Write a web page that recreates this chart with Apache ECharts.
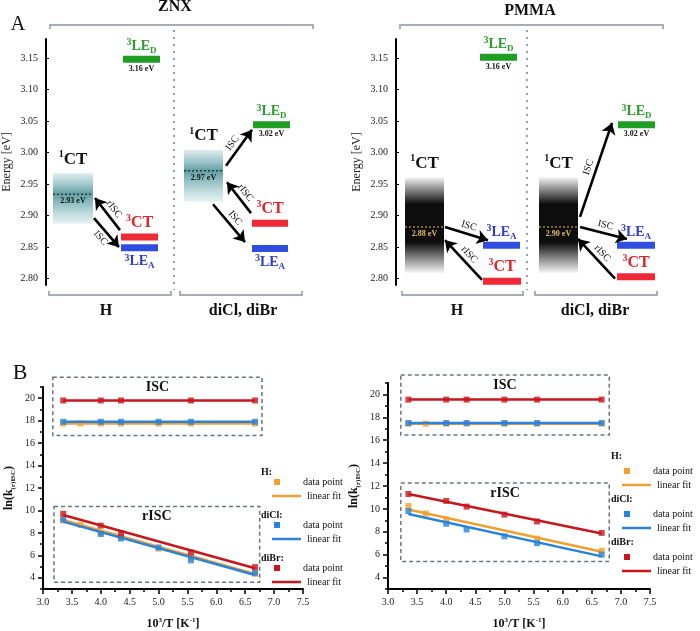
<!DOCTYPE html>
<html>
<head>
<meta charset="utf-8">
<script src="https://cdn.jsdelivr.net/npm/echarts@6.0.0/dist/echarts.min.js"></script>
<style>
  html, body { margin: 0; padding: 0; background: #fff; }
  #main { width: 700px; height: 631px; }
</style>
</head>
<body>
<div id="main"></div>
<script>
// ---------- panel A : state energies (eV), order 1CT, 3LE_D, 3CT, 3LE_A
const znxH = [2.934, 3.148, 2.866, 2.849];
const znxHal = [2.971, 3.044, 2.888, 2.848];
const pmmaH = [2.882, 3.151, 2.796, 2.853];
const pmmaHal = [2.882, 3.044, 2.803, 2.853];
// 1CT band spread [low, high]
const ctBandZnxH = [2.887, 2.967];
const ctBandZnxHal = [2.922, 3.004];
const ctBandPmmaH = [2.809, 2.961];
const ctBandPmmaHal = [2.809, 2.961];
const ctLabels = ['2.93 eV', '2.97 eV', '2.88 eV', '2.90 eV'];
const ledLabels = ['3.16 eV', '3.02 eV', '3.16 eV', '3.02 eV'];
const energyTicks = [2.80, 2.85, 2.90, 2.95, 3.00, 3.05, 3.10, 3.15];

// ---------- panel B : ln(k) vs 10^3/T
const invT = [3.35, 3.65, 4.0, 4.35, 5.0, 5.56, 6.67];
const fitX = [3.35, 6.67];
// ZNX
const znxIscH = [17.75, 17.75, 17.75, 17.75, 17.75, 17.75, 17.75];
const znxIscCl = [17.9, null, 17.9, 17.9, 17.9, 17.9, 17.9];
const znxIscBr = [19.8, null, 19.8, 19.8, null, 19.8, 19.8];
const znxRiscH = [9.1, 8.7, 8.0, 7.6, 6.6, 5.8, 4.35];
const znxRiscCl = [9.2, null, 7.9, 7.5, 6.7, 5.55, 4.45];
const znxRiscBr = [9.7, null, 8.65, 7.95, null, 6.25, 4.95];
const znxIscFitH = [17.75, 17.75], znxIscFitCl = [17.9, 17.9], znxIscFitBr = [19.8, 19.8];
const znxRiscFitH = [9.15, 4.35], znxRiscFitCl = [9.0, 4.25], znxRiscFitBr = [9.6, 4.85];
// PMMA
const pmmaIscH = [17.45, 17.45, 17.45, 17.45, 17.45, 17.45, 17.45];
const pmmaIscCl = [17.5, null, 17.5, 17.5, 17.5, 17.5, 17.5];
const pmmaIscBr = [19.55, null, 19.55, 19.55, 19.55, 19.55, 19.55];
const pmmaRiscH = [10.25, 9.6, 9.1, null, null, 7.4, 6.35];
const pmmaRiscCl = [9.8, null, 8.7, 8.2, 7.6, 7.0, 6.0];
const pmmaRiscBr = [11.3, null, 10.7, 10.2, 9.5, 8.9, 7.9];
const pmmaIscFitH = [17.45, 17.45], pmmaIscFitCl = [17.5, 17.5], pmmaIscFitBr = [19.55, 19.55];
const pmmaRiscFitH = [9.95, 6.25], pmmaRiscFitCl = [9.55, 5.85], pmmaRiscFitBr = [11.3, 7.85];
const kTicksMajor = [4, 6, 8, 10, 12, 14, 16, 18, 20];
const kTicksMinor = [3, 5, 7, 9, 11, 13, 15, 17, 19, 21];

// ---------- styling
const FONT = "'Liberation Serif', 'DejaVu Serif', serif";
const barColors = [null, '#1f9e24', '#ee2a36', '#2f4ee0'];
const textColors = [null, '#2a9d2a', '#e4222c', '#2b3ccc'];
const cH = '#f0a030', cCl = '#2b82d9', cBr = '#c8161d';
const stateText = ['{s|1}{m|CT}', '{s|3}{m|LE}{d|D}', '{s|3}{m|CT}', '{s|3}{m|LE}{d|A}'];
const stateSize = [17, 14, 16, 14];

function richFor(k) {
  const fill = k === 0 ? '#111' : textColors[k];
  const fs = stateSize[k];
  return {
    s: { fontFamily: FONT, fontWeight: 'bold', fontSize: 10, fill: fill, verticalAlign: 'top', lineHeight: 10 },
    m: { fontFamily: FONT, fontWeight: 'bold', fontSize: fs, fill: fill, lineHeight: fs + 3 },
    d: { fontFamily: FONT, fontWeight: 'bold', fontSize: 9, fill: fill, verticalAlign: 'bottom', lineHeight: 9 }
  };
}

// layout (grid-relative px units on hidden x axes): bars [x0, x1, labelSide]
const layZnxH = { band: [7, 47], bars: [null, [77, 114, 'top'], [75, 112, 'top'], [75, 112, 'bottom']] };
const layZnxHal = { band: [138, 177], bars: [null, [207, 244, 'top'], [206, 242, 'top'], [206, 242, 'bottom']] };
const layPmmaH = { band: [9, 48], bars: [null, [84, 121, 'top'], [87, 125, 'top'], [87, 124, 'top']] };
const layPmmaHal = { band: [143, 182], bars: [null, [222, 259, 'top'], [221, 259, 'top'], [221, 259, 'top']] };

// arrows: [label, x0, e0, x1, e1, labelPos]
const arrowsZnx = [
  ['rISC', 74, 2.877, 49, 2.928, 'insideMiddleTop'],
  ['ISC', 48, 2.896, 73, 2.850, 'insideMiddleBottom'],
  ['ISC', 180, 2.979, 206, 3.036, 'insideMiddleTop'],
  ['rISC', 205, 2.904, 181, 2.953, 'insideMiddleTop'],
  ['ISC', 167, 2.918, 199, 2.858, 'insideMiddleTop']
];
const arrowsPmma = [
  ['ISC', 49, 2.882, 92, 2.861, 'insideMiddleTop'],
  ['rISC', 86, 2.798, 49, 2.861, 'insideMiddleTop'],
  ['ISC', 184, 2.898, 216, 3.047, 'insideMiddleTop'],
  ['ISC', 184, 2.882, 231, 2.863, 'insideMiddleTop'],
  ['rISC', 219, 2.800, 182, 2.863, 'insideMiddleTop']
];

function levelSeries(gi, energies, lay, ledText) {
  const data = [1, 2, 3].map(k => [lay.bars[k][0], lay.bars[k][1], energies[k], k]);
  return {
    type: 'custom', xAxisIndex: gi, yAxisIndex: gi, clip: false, silent: true, z: 5,
    data: data,
    renderItem(params, api) {
      const k = api.value(3);
      const a = api.coord([api.value(0), api.value(2)]);
      const b = api.coord([api.value(1), api.value(2)]);
      const th = 7;
      const top = a[1] - th / 2, bot = a[1] + th / 2, cx = (a[0] + b[0]) / 2;
      const side = lay.bars[k][2];
      const kids = [
        { type: 'rect', shape: { x: a[0], y: top, width: b[0] - a[0], height: th }, style: { fill: barColors[k] } },
        { type: 'text', x: cx, y: side === 'top' ? top - 1 : bot + 2,
          style: { text: stateText[k], rich: richFor(k), align: 'center', verticalAlign: side === 'top' ? 'bottom' : 'top' } }
      ];
      if (k === 1) {
        kids.push({ type: 'text', x: cx, y: bot + 2,
          style: { text: ledText, fontFamily: FONT, fontWeight: 'bold', fontSize: 8, fill: '#111', align: 'center', verticalAlign: 'top' } });
      }
      return { type: 'group', children: kids };
    }
  };
}

function bandSeries(gi, energy, band, lay, label, dark) {
  return {
    type: 'custom', xAxisIndex: gi, yAxisIndex: gi, clip: false, silent: true, z: 3,
    data: [[lay.band[0], lay.band[1], band[0], band[1], energy]],
    renderItem(params, api) {
      const tl = api.coord([api.value(0), api.value(3)]);
      const br = api.coord([api.value(1), api.value(2)]);
      const m = api.coord([api.value(0), api.value(4)]);
      const w = br[0] - tl[0], h = br[1] - tl[1];
      const f = (m[1] - tl[1]) / h;
      const fill = dark
        ? new echarts.graphic.LinearGradient(0, 0, 0, 1, [
            { offset: 0, color: 'rgba(0,0,0,0.04)' },
            { offset: 0.28, color: 'rgba(0,0,0,0.95)' },
            { offset: 0.68, color: 'rgba(0,0,0,0.95)' },
            { offset: 1, color: 'rgba(0,0,0,0.03)' }])
        : new echarts.graphic.LinearGradient(0, 0, 0, 1, [
            { offset: 0, color: 'rgba(120,180,186,0.25)' },
            { offset: f, color: 'rgba(88,152,158,0.95)' },
            { offset: 1, color: 'rgba(130,190,195,0.2)' }]);
      const accent = dark ? '#e3bd74' : '#111';
      return {
        type: 'group',
        children: [
          { type: 'rect', shape: { x: tl[0], y: tl[1], width: w, height: h }, style: { fill: fill } },
          { type: 'line', shape: { x1: tl[0], y1: m[1], x2: br[0], y2: m[1] }, style: { stroke: accent, lineWidth: 1, lineDash: [2, 2] } },
          { type: 'text', x: tl[0] + w / 2, y: tl[1] - 4,
            style: { text: stateText[0], rich: richFor(0), align: 'center', verticalAlign: 'bottom' } },
          { type: 'text', x: tl[0] + w / 2, y: m[1] + 3,
            style: { text: label, fontFamily: FONT, fontWeight: 'bold', fontSize: 8, fill: accent, align: 'center', verticalAlign: 'top' } }
        ]
      };
    }
  };
}

function arrowSeries(gi, arrows) {
  return {
    type: 'lines', coordinateSystem: 'cartesian2d', xAxisIndex: gi, yAxisIndex: gi, silent: true, z: 6,
    symbol: ['none', 'arrow'], symbolSize: 11,
    lineStyle: { color: '#000', width: 2.6, opacity: 1, curveness: 0 },
    label: { show: true, formatter: '{b}', fontFamily: FONT, fontSize: 10, color: '#111', distance: 3 },
    data: arrows.map(a => ({ name: a[0], coords: [[a[1], a[2]], [a[3], a[4]]], label: { position: a[5] } }))
  };
}

function kSeries(gi, isc, risc, iscFit, riscFit, color, z) {
  const pts = arr => invT.map((x, i) => arr[i] == null ? null : [x, arr[i]]).filter(Boolean);
  const fit = v => fitX.map((x, i) => [x, v[i]]);
  const base = { xAxisIndex: gi, yAxisIndex: gi, silent: true, z: z, animation: false };
  return [
    Object.assign({ type: 'line', data: fit(iscFit), symbol: 'none', lineStyle: { color: color, width: 2.5 } }, base),
    Object.assign({ type: 'line', data: fit(riscFit), symbol: 'none', lineStyle: { color: color, width: 2.5 } }, base),
    Object.assign({ type: 'scatter', data: pts(isc), symbol: 'rect', symbolSize: 6, itemStyle: { color: color } }, base),
    Object.assign({ type: 'scatter', data: pts(risc), symbol: 'rect', symbolSize: 6, itemStyle: { color: color } }, base)
  ];
}

const serifLabel = { fontFamily: FONT, fontSize: 10, color: '#222' };

function energyAxis(gi) {
  return {
    type: 'value', gridIndex: gi, min: 2.79, max: 3.18,
    axisLine: { show: true, lineStyle: { color: '#000', width: 2 } },
    axisTick: { show: true, inside: true, length: 3, customValues: energyTicks, lineStyle: { color: '#000' } },
    axisLabel: Object.assign({ customValues: energyTicks, formatter: v => v.toFixed(2), margin: 8 }, serifLabel),
    splitLine: { show: false },
    name: 'Energy [eV]', nameLocation: 'middle', nameGap: 33,
    nameTextStyle: { fontFamily: FONT, fontSize: 12, color: '#222' }
  };
}

function kAxis(gi) {
  return {
    type: 'value', gridIndex: gi, min: 3, max: 21, position: 'left',
    axisLine: { show: true, lineStyle: { color: '#000', width: 2 } },
    axisTick: { show: true, length: 5, customValues: kTicksMajor, lineStyle: { color: '#000', width: 1.5 } },
    axisLabel: Object.assign({ customValues: kTicksMajor, margin: 8 }, serifLabel),
    splitLine: { show: false },
    name: 'ln(k{d|(r)ISC})', nameLocation: 'middle', nameGap: 26,
    nameTextStyle: {
      fontFamily: FONT, fontSize: 12, fontWeight: 'bold', color: '#111',
      rich: { d: { fontFamily: FONT, fontSize: 7, fontWeight: 'bold', color: '#111', verticalAlign: 'bottom', lineHeight: 16 } }
    }
  };
}

function kMinorAxis(gi) {
  return {
    type: 'value', gridIndex: gi, min: 3, max: 21, position: 'left', offset: 0,
    axisLine: { show: false },
    axisTick: { show: true, length: 3, customValues: kTicksMinor, lineStyle: { color: '#000', width: 1.5 } },
    axisLabel: { show: false }, splitLine: { show: false }
  };
}

function tAxis(gi) {
  return {
    type: 'value', gridIndex: gi, min: 3, max: 7.5, interval: 0.5,
    axisLine: { show: true, onZero: false, lineStyle: { color: '#000', width: 2 } },
    axisTick: { show: true, length: 5, lineStyle: { color: '#000', width: 1.5 } },
    minorTick: { show: true, splitNumber: 2, length: 3, lineStyle: { color: '#000', width: 1.5 } },
    axisLabel: Object.assign({ formatter: v => v.toFixed(1), margin: 8, showMaxLabel: true }, serifLabel),
    splitLine: { show: false },
    name: '10{s|3}/T [K{s|-1}]', nameLocation: 'middle', nameGap: 28,
    nameTextStyle: {
      fontFamily: FONT, fontSize: 12, fontWeight: 'bold', color: '#111',
      rich: { s: { fontFamily: FONT, fontSize: 7, fontWeight: 'bold', color: '#111', verticalAlign: 'top', lineHeight: 14 } }
    }
  };
}

const chart = echarts.init(document.getElementById('main'), null, { renderer: 'canvas' });

const option = {
  animation: false,
  backgroundColor: '#fff',
  grid: [
    { left: 46, top: 39, width: 274, height: 246 },
    { left: 396, top: 39, width: 274, height: 246 },
    { left: 43, top: 387, width: 260, height: 208 },
    { left: 388, top: 383, width: 262, height: 210 }
  ],
  xAxis: [
    { type: 'value', gridIndex: 0, min: 0, max: 274, show: false },
    { type: 'value', gridIndex: 1, min: 0, max: 274, show: false },
    tAxis(2),
    tAxis(3)
  ],
  yAxis: [
    energyAxis(0), energyAxis(1), kAxis(2), kAxis(3), kMinorAxis(2), kMinorAxis(3)
  ],
  series: [
    bandSeries(0, znxH[0], ctBandZnxH, layZnxH, ctLabels[0], false),
    bandSeries(0, znxHal[0], ctBandZnxHal, layZnxHal, ctLabels[1], false),
    bandSeries(1, pmmaH[0], ctBandPmmaH, layPmmaH, ctLabels[2], true),
    bandSeries(1, pmmaHal[0], ctBandPmmaHal, layPmmaHal, ctLabels[3], true),
    levelSeries(0, znxH, layZnxH, ledLabels[0]),
    levelSeries(0, znxHal, layZnxHal, ledLabels[1]),
    levelSeries(1, pmmaH, layPmmaH, ledLabels[2]),
    levelSeries(1, pmmaHal, layPmmaHal, ledLabels[3]),
    arrowSeries(0, arrowsZnx),
    arrowSeries(1, arrowsPmma)
  ]
    .concat(kSeries(2, znxIscH, znxRiscH, znxIscFitH, znxRiscFitH, cH, 2))
    .concat(kSeries(2, znxIscCl, znxRiscCl, znxIscFitCl, znxRiscFitCl, cCl, 3))
    .concat(kSeries(2, znxIscBr, znxRiscBr, znxIscFitBr, znxRiscFitBr, cBr, 4))
    .concat(kSeries(3, pmmaIscH, pmmaRiscH, pmmaIscFitH, pmmaRiscFitH, cH, 2))
    .concat(kSeries(3, pmmaIscCl, pmmaRiscCl, pmmaIscFitCl, pmmaRiscFitCl, cCl, 3))
    .concat(kSeries(3, pmmaIscBr, pmmaRiscBr, pmmaIscFitBr, pmmaRiscFitBr, cBr, 4))
};

chart.setOption(option);

// ---------- decorations (brackets, panel letters, dashed boxes, legends)
const bracketColor = '#a7afb6';
function bracket(x0, x1, y, dir) {
  return { type: 'polyline', silent: true, z: 1,
    shape: { points: [[x0, y + 4 * dir], [x0, y], [x1, y], [x1, y + 4 * dir]] },
    style: { stroke: bracketColor, lineWidth: 2, fill: null } };
}
function divider(x) {
  return { type: 'line', silent: true, z: 1, shape: { x1: x, y1: 30, x2: x, y2: 290 },
    style: { stroke: '#8fa2b8', lineWidth: 2, lineDash: [2, 5] } };
}
function label(text, x, y, size, bold) {
  return { type: 'text', silent: true, z: 10, x: x, y: y,
    style: { text: text, fontFamily: FONT, fontSize: size, fontWeight: bold ? 'bold' : 'normal', fill: '#111', align: 'center', verticalAlign: 'middle' } };
}

const deco = [
  label('A', 18, 25, 20, false),
  label('B', 20, 373, 22, false),
  label('ZNX', 175, 7, 16, true),
  label('PMMA', 530, 11, 16, true),
  label('H', 106, 311, 16, true),
  label('diCl, diBr', 243, 311, 16, true),
  label('H', 457, 311, 16, true),
  label('diCl, diBr', 595, 311, 16, true),
  bracket(50, 313, 25, 1), bracket(400, 663, 25, 1),
  bracket(49, 171, 295, -1), bracket(180, 302, 295, -1),
  bracket(402, 523, 295, -1), bracket(535, 657, 295, -1),
  divider(174), divider(527)
];

// dashed boxes in data units of panel B: [label, x0, y0, x1, y1]
const boxesZnx = [['ISC', 3.17, 21.87, 6.79, 16.67], ['rISC', 3.19, 10.36, 6.75, 3.61]];
const boxesPmma = [['ISC', 3.22, 21.69, 6.80, 16.46], ['rISC', 3.22, 12.26, 6.80, 5.40]];
function boxes(gi, list) {
  const out = [];
  list.forEach(b => {
    const p0 = chart.convertToPixel({ gridIndex: gi }, [b[1], b[2]]);
    const p1 = chart.convertToPixel({ gridIndex: gi }, [b[3], b[4]]);
    out.push({ type: 'rect', silent: true, z: 1,
      shape: { x: p0[0], y: p0[1], width: p1[0] - p0[0], height: p1[1] - p0[1] },
      style: { fill: null, stroke: '#6b7580', lineWidth: 1.5, lineDash: [4, 3] } });
    out.push(label(b[0], (p0[0] + p1[0]) / 2, p0[1] + 10, 14, true));
  });
  return out;
}

function legendBlock(x, y, dySq, dyLine, gap) {
  const out = [];
  [['H:', cH], ['diCl:', cCl], ['diBr:', cBr]].forEach((g, i) => {
    const y0 = y + i * gap;
    out.push({ type: 'text', silent: true, z: 10, x: x, y: y0,
      style: { text: g[0], fontFamily: FONT, fontSize: 10, fontWeight: 'bold', fill: '#111', align: 'left', verticalAlign: 'middle' } });
    out.push({ type: 'rect', silent: true, z: 10, shape: { x: x + 13, y: y0 + dySq - 3, width: 6, height: 6 }, style: { fill: g[1] } });
    out.push({ type: 'text', silent: true, z: 10, x: x + 42, y: y0 + dySq,
      style: { text: 'data point', fontFamily: FONT, fontSize: 10, fill: '#111', align: 'left', verticalAlign: 'middle' } });
    out.push({ type: 'line', silent: true, z: 10, shape: { x1: x + 11, y1: y0 + dyLine, x2: x + 40, y2: y0 + dyLine },
      style: { stroke: g[1], lineWidth: 2.5 } });
    out.push({ type: 'text', silent: true, z: 10, x: x + 46, y: y0 + dyLine,
      style: { text: 'linear fit', fontFamily: FONT, fontSize: 10, fill: '#111', align: 'left', verticalAlign: 'middle' } });
  });
  return out;
}

chart.setOption({
  graphic: deco
    .concat(boxes(2, boxesZnx))
    .concat(boxes(3, boxesPmma))
    .concat(legendBlock(261, 472, 10, 24, 43))
    .concat(legendBlock(611, 456, 15, 29, 43))
});
</script>
</body>
</html>
